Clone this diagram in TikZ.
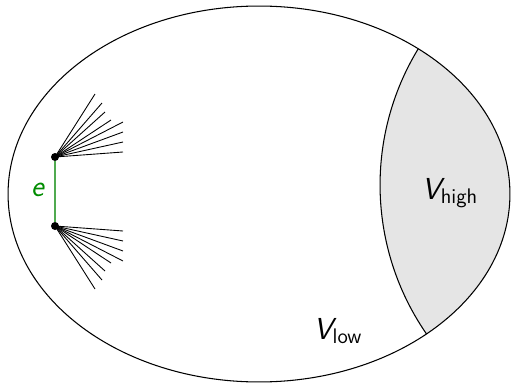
\documentclass[tikz,border=0pt]{standalone}
\usepackage{amsmath}
\usetikzlibrary{calc}

\definecolor{edgegreen}{RGB}{80,170,80}
\definecolor{labelgreen}{RGB}{0,140,0}

\tikzset{
  vtx/.style={circle,fill=black,inner sep=0pt,minimum size=0.16cm},
  fan/.style={black,line width=0.5pt},
  outline/.style={black,line width=0.6pt},
}

\begin{document}
\begin{tikzpicture}[x=0.02cm,y=0.02cm]
\useasboundingbox (0,0) rectangle (511,383);
\coordinate (O) at (259,189);
\coordinate (C) at (642,198);
% shaded part V_high
\begin{scope}
\clip (O) ellipse [x radius=5.02cm, y radius=3.76cm];
\fill[gray!20] ($(C)+(143:5.24cm)$) arc [start angle=143, end angle=221, radius=5.24cm] -- ++(200,0) -- ++(0,420) -- cycle;
\draw[outline] ($(C)+(143:5.24cm)$) arc [start angle=143, end angle=221, radius=5.24cm];
\end{scope}
\draw[outline] (O) ellipse [x radius=5.02cm, y radius=3.76cm];
\node (vhigh) at (450,190) {\LARGE $\textsf{\itshape V}_{\textsf{high}}$};
\node (vlow) at (338,52) {\LARGE $\textsf{\itshape V}_{\textsf{low}}$};
% the edge e
\node[vtx] (u) at (55,226) {};
\node[vtx] (w) at (55,157) {};
\draw[edgegreen,line width=0.8pt] (u) -- (w);
\node[text=labelgreen] (e) at (38,193) {\LARGE\textsf{\itshape e}};
\foreach \dx/\dy in {40/63,47/54,50/45,56/37,68/35,68/25,68/15,68/5}{
  \draw[fan] (u.center) -- ($(u)+(\dx,\dy)$);
  \draw[fan] (w.center) -- ($(w)+(\dx,-\dy)$);
}
\end{tikzpicture}
\end{document}
